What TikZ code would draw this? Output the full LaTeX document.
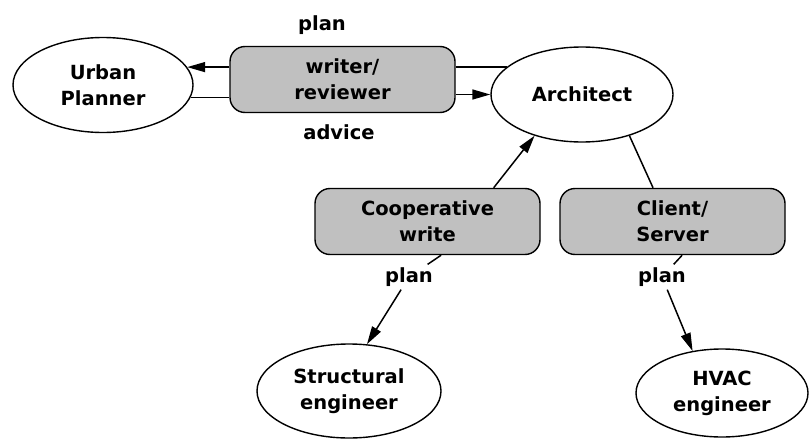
\documentclass[tikz,border=0pt]{standalone}
\usepackage{fontspec}
\setmainfont{DejaVu Sans}
\usetikzlibrary{shapes.geometric,arrows.meta,calc}
\definecolor{boxgray}{HTML}{C0C0C0}
\begin{document}
\begin{tikzpicture}[x=1pt,y=-1pt,
  every node/.style={font=\bfseries\fontsize{19.5}{26}\selectfont, align=center},
  ell/.style={draw, ellipse, line width=1.4pt, inner sep=0pt},
  gbox/.style={draw, rounded corners=15pt, fill=boxgray, line width=1.4pt,
     minimum width=225pt, minimum height=66pt, inner sep=0pt},
  lbl/.style={inner sep=3pt},
  conn/.style={line width=1.5pt},
  arr/.style={conn, -{Triangle[length=18pt,width=10pt]}}]
\useasboundingbox (0,0) rectangle (809,439);
\node[ell, minimum width=180pt, minimum height=95pt] (urban) at (103,85) {Urban\\Planner};
\node[gbox] (wr) at (342.5,79.5) {writer/\\reviewer};
\node[lbl] (plantop) at (322,25) {plan};
\node[lbl] (advice) at (339,132) {advice};
\node[ell, minimum width=182pt, minimum height=95pt] (arch) at (582,94.5) {Architect};
\node[gbox] (coop) at (427.5,221.5) {Cooperative\\write};
\node[gbox] (cs) at (672.5,221.5) {Client/\\Server};
\node[lbl] (planL) at (409,277) {plan};
\node[lbl] (planR) at (662,277) {plan};
\node[ell, minimum width=184pt, minimum height=94pt] (struct) at (349,391) {Structural\\engineer};
\node[ell, minimum width=172pt, minimum height=88pt] (hvac) at (722,393) {HVAC\\engineer};

\draw[arr] (wr.west |- urban.12) -- (urban.12);
\draw[conn] (urban.-8) -- (wr.west |- urban.-8);
\draw[conn] (wr.east |- arch.160) -- (arch.160);
\draw[arr] (wr.east |- arch.west) -- (arch.west);
\draw[arr] (coop.27) -- (arch.221);
\draw[conn] (arch.-41) -- (cs.120);
\draw[conn] (coop.-68) -- (planL);
\draw[arr] (planL) -- (struct.69);
\draw[conn] (cs.-74) -- (planR);
\draw[arr] (planR) -- (hvac.125);
\end{tikzpicture}
\end{document}
